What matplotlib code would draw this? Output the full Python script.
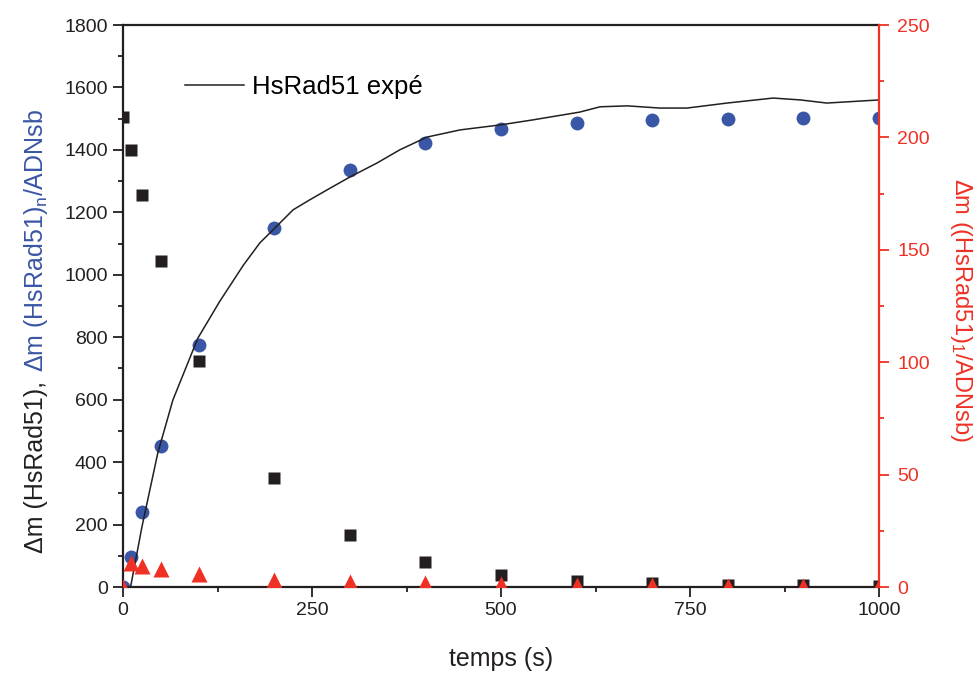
import matplotlib
matplotlib.use('Agg')
import matplotlib.pyplot as plt
from matplotlib.ticker import MultipleLocator

plt.rcParams['font.family'] = ['Liberation Sans', 'DejaVu Sans']
plt.rcParams['mathtext.fontset'] = 'custom'
plt.rcParams['mathtext.rm'] = 'Liberation Sans'
plt.rcParams['mathtext.it'] = 'Liberation Sans'

# ---- data ----
t = [0, 10, 25, 50, 100, 200, 300, 400, 500, 600, 700, 800, 900, 1000]
blue_n = [0, 96, 240, 452, 775, 1150, 1336, 1422, 1467, 1486, 1496, 1499, 1502, 1502]
black_m = [1505, 1400, 1256, 1044, 724, 349, 167, 80, 38, 18, 12, 8, 6, 4]
red_1 = [0, 10.7, 9.3, 8.0, 5.8, 3.1, 2.2, 1.6, 1.2, 1.0, 0.8, 0.6, 0.5, 0.3]

fit_t = [10, 25, 46, 66, 99, 128, 159, 181, 201, 225, 247, 270, 300, 336, 366,
         402, 446, 499, 542, 604, 631, 667, 710, 746, 799, 860, 896, 931, 1000]
fit_y = [0, 192, 429, 599, 797, 915, 1030, 1102, 1150, 1208, 1240, 1272, 1313,
         1358, 1400, 1441, 1464, 1480, 1496, 1521, 1538, 1541, 1534, 1534, 1550,
         1566, 1560, 1550, 1560]

BLUE = '#3a56a6'
RED = '#ee3124'
BLACK = '#231f20'

fig = plt.figure(figsize=(9.77, 6.73), dpi=100)
ax = fig.add_axes([123/977, 86/673, 756/977, 562/673])

ax.plot(t, blue_n, 'o', color=BLUE, ms=10, mec='none', zorder=2)
ax.plot(fit_t, fit_y, '-', color=BLACK, lw=1.1, zorder=3, label='HsRad51 expé')
ax.plot(t, black_m, 's', color=BLACK, ms=8, mec='none', zorder=2)

ax.set_xlim(0, 1000)
ax.set_ylim(0, 1800)
ax.xaxis.set_major_locator(MultipleLocator(250))
ax.xaxis.set_minor_locator(MultipleLocator(125))
ax.yaxis.set_major_locator(MultipleLocator(200))
ax.yaxis.set_minor_locator(MultipleLocator(100))
ax.tick_params(axis='both', which='major', direction='out', length=7, width=1.3,
               labelsize=14, color=BLACK, labelcolor=BLACK)
ax.tick_params(axis='both', which='minor', direction='out', length=3.5, width=1.3, color=BLACK)
ax.tick_params(axis='x', pad=4)
ax.tick_params(axis='y', pad=4)
for s in ['left', 'bottom', 'top']:
    ax.spines[s].set_linewidth(1.6)
    ax.spines[s].set_color(BLACK)
ax.spines['right'].set_visible(False)

ax.set_xlabel('temps (s)', fontsize=18, color=BLACK, labelpad=20)

leg = ax.legend(loc='center left', bbox_to_anchor=((185-123)/756, (587-87)/562),
                frameon=False, fontsize=18.5, handlelength=2.3, handletextpad=0.3,
                borderpad=0, borderaxespad=0)

ax2 = ax.twinx()
ax2.set_position(ax.get_position())
ax2.plot(t, red_1, '^', color=RED, ms=11, mec='none')
ax2.set_ylim(0, 250)
ax2.yaxis.set_major_locator(MultipleLocator(50))
ax2.yaxis.set_minor_locator(MultipleLocator(25))
ax2.tick_params(axis='y', which='major', direction='out', length=7, width=1.3,
                labelsize=14, color=RED, labelcolor=RED, pad=6)
ax2.tick_params(axis='y', which='minor', direction='out', length=3.5, width=1.3, color=RED)
for s in ['left', 'bottom', 'top']:
    ax2.spines[s].set_visible(False)
ax2.spines['right'].set_color(RED)
ax2.spines['right'].set_linewidth(1.6)

ax2.text(961/977, 1 - 310/673, 'Δm ((HsRad51)$_\\mathregular{1}$/ADNsb)', transform=fig.transFigure,
         rotation=-90, fontsize=17, color=RED, ha='center', va='center')

# two-colour left label
W, H = fig.get_size_inches() * fig.dpi
t1 = fig.text(43/977, 1 - 553/673, 'Δm (HsRad51),', rotation=90, rotation_mode='anchor',
              ha='left', va='baseline', fontsize=18, color=BLACK)
fig.canvas.draw()
bb = t1.get_window_extent()
t2 = fig.text(43/977, (bb.y1 + 9) / H, 'Δm (HsRad51)$_\\mathregular{n}$/ADNsb', rotation=90,
              rotation_mode='anchor', ha='left', va='baseline', fontsize=18, color=BLUE)

fig.savefig('out.png', dpi=100)
